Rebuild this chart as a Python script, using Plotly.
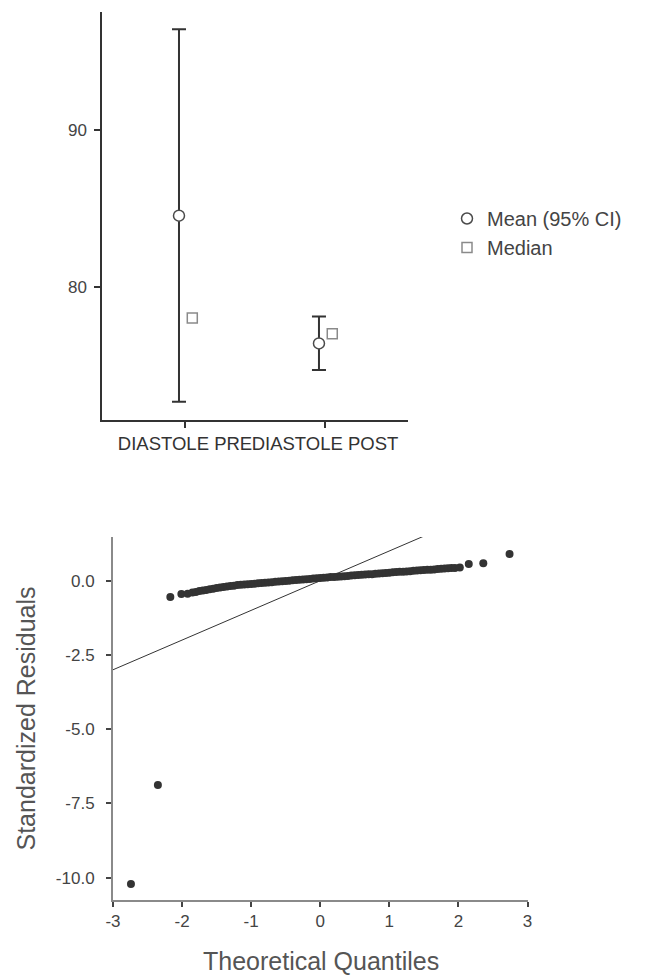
import plotly.graph_objects as go

# ---------------- Top chart: descriptives ----------------
categories = ["DIASTOLE PRE", "DIASTOLE POST"]
mean_values = [84.53, 76.38]
ci_lower = [72.66, 74.68]
ci_upper = [96.43, 78.09]
median_values = [78.0, 77.0]
top_y_ticks = [80, 90]

# ---------------- Bottom chart: Q-Q plot ----------------
theoretical_quantiles = [
    -2.74, -2.35, -2.17, -2.01, -1.92,
    -1.85, -1.80, -1.75, -1.70, -1.65, -1.60, -1.55, -1.50, -1.45, -1.40,
    -1.35, -1.30, -1.25, -1.20, -1.15, -1.10, -1.05, -1.00, -0.95, -0.90,
    -0.85, -0.80, -0.75, -0.70, -0.65, -0.60, -0.55, -0.50, -0.45, -0.40,
    -0.35, -0.30, -0.25, -0.20, -0.15, -0.10, -0.05, 0.00, 0.05, 0.10,
    0.15, 0.20, 0.25, 0.30, 0.35, 0.40, 0.45, 0.50, 0.55, 0.60,
    0.65, 0.70, 0.75, 0.80, 0.85, 0.90, 0.95, 1.00, 1.05, 1.10,
    1.15, 1.20, 1.25, 1.30, 1.35, 1.40, 1.45, 1.50, 1.55, 1.60,
    1.65, 1.70, 1.75, 1.80, 1.85, 1.90, 1.95,
    2.02, 2.15, 2.36, 2.74,
]
standardized_residuals = [
    -10.21, -6.88, -0.55, -0.45, -0.44,
    -0.40, -0.38, -0.35, -0.33, -0.31, -0.29, -0.27, -0.25, -0.23, -0.21,
    -0.20, -0.18, -0.17, -0.15, -0.14, -0.13, -0.12, -0.11, -0.10, -0.09,
    -0.08, -0.07, -0.06, -0.05, -0.04, -0.03, -0.02, -0.01, 0.00, 0.01,
    0.02, 0.03, 0.04, 0.05, 0.06, 0.07, 0.08, 0.09, 0.10, 0.11,
    0.12, 0.12, 0.13, 0.14, 0.15, 0.16, 0.17, 0.18, 0.19, 0.20,
    0.21, 0.22, 0.22, 0.23, 0.24, 0.25, 0.26, 0.27, 0.28, 0.29,
    0.30, 0.30, 0.31, 0.32, 0.33, 0.34, 0.35, 0.36, 0.37, 0.37,
    0.38, 0.39, 0.40, 0.41, 0.42, 0.43, 0.43,
    0.44, 0.56, 0.59, 0.90,
]
reference_line_x = [-3, 3]
reference_line_y = [-3, 3]
qq_x_ticks = [-3, -2, -1, 0, 1, 2, 3]
qq_x_tick_labels = ["-3", "-2", "-1", "0", "1", "2", "3"]
qq_y_ticks = [0.0, -2.5, -5.0, -7.5, -10.0]
qq_y_tick_labels = ["0.0", "-2.5", "-5.0", "-7.5", "-10.0"]
x_title = "Theoretical Quantiles"
y_title = "Standardized Residuals"

FONT = "Liberation Sans, Arial, Helvetica, sans-serif"
W, H = 653, 979
OFF = 8  # default page body margin


def fx(px):
    return (px - OFF) / W


def fy(py):
    return 1 - (py - OFF) / H


cat_pos = list(range(len(categories)))
mean_x = [p - 0.043 for p in cat_pos]
median_x = [p + 0.052 for p in cat_pos]
err_plus = [u - m for u, m in zip(ci_upper, mean_values)]
err_minus = [m - l for m, l in zip(mean_values, ci_lower)]

fig = go.Figure()

fig.add_trace(go.Scatter(
    x=mean_x, y=mean_values, mode="markers", name="Mean (95% CI)",
    marker=dict(symbol="circle", size=11, color="white",
                line=dict(color="#4a4a4a", width=1.5)),
    error_y=dict(type="data", symmetric=False, array=err_plus,
                 arrayminus=err_minus, color="#333333", thickness=2, width=7),
    xaxis="x", yaxis="y",
))
fig.add_trace(go.Scatter(
    x=median_x, y=median_values, mode="markers", name="Median",
    marker=dict(symbol="square", size=10, color="white",
                line=dict(color="#8a8a8a", width=1.5)),
    xaxis="x", yaxis="y",
))

fig.add_trace(go.Scatter(
    x=reference_line_x, y=reference_line_y, mode="lines",
    line=dict(color="#333333", width=1), showlegend=False,
    xaxis="x2", yaxis="y2",
))
fig.add_trace(go.Scatter(
    x=theoretical_quantiles, y=standardized_residuals, mode="markers",
    marker=dict(size=8, color="#333333"), showlegend=False,
    xaxis="x2", yaxis="y2",
))

tick_font = dict(family=FONT, size=17, color="#444444")
title_font = dict(family=FONT, size=25, color="#555555")

fig.update_layout(
    width=W, height=H, autosize=False,
    margin=dict(l=0, r=0, t=0, b=0),
    paper_bgcolor="white", plot_bgcolor="white",
    font=dict(family=FONT, color="#444444"),
    xaxis=dict(
        domain=[fx(102), fx(408)], range=[-0.593, 1.593],
        tickvals=cat_pos, ticktext=categories, tickangle=0,
        tickfont=dict(family=FONT, size=18.5, color="#333333"),
        showline=True, linecolor="#333333", linewidth=1.5,
        ticks="outside", ticklen=6, tickcolor="#333333", tickwidth=1.5,
        showgrid=False, zeroline=False, anchor="y", automargin=False,
    ),
    yaxis=dict(
        domain=[fy(420), fy(12)], range=[71.49, 97.53],
        tickvals=top_y_ticks, tickfont=tick_font, ticklabelstandoff=4,
        showline=True, linecolor="#333333", linewidth=1.5,
        ticks="outside", ticklen=6, tickcolor="#333333", tickwidth=1.5,
        showgrid=False, zeroline=False, anchor="x", automargin=False,
    ),
    xaxis2=dict(
        domain=[fx(113), fx(527.5)], range=[-3, 3],
        tickvals=qq_x_ticks, ticktext=qq_x_tick_labels, tickangle=0,
        tickfont=tick_font,
        showline=True, linecolor="#8a8a8a", linewidth=2,
        ticks="outside", ticklen=5, tickcolor="#444444", tickwidth=1.5,
        showgrid=False, zeroline=False, anchor="y2", automargin=False,
    ),
    yaxis2=dict(
        domain=[fy(900), fy(537)], range=[-10.75, 1.47],
        tickvals=qq_y_ticks, ticktext=qq_y_tick_labels, tickfont=tick_font,
        ticklabelstandoff=8,
        showline=True, linecolor="#8a8a8a", linewidth=2,
        ticks="outside", ticklen=5, tickcolor="#444444", tickwidth=1.5,
        showgrid=False, zeroline=False, anchor="x2", automargin=False,
    ),
    legend=dict(
        x=fx(447), y=fy(199), xanchor="left", yanchor="top",
        font=dict(family=FONT, size=20, color="#444444"),
        bgcolor="rgba(0,0,0,0)", tracegroupgap=0,
    ),
    annotations=[
        dict(text=x_title, xref="paper", yref="paper",
             x=fx(320.5), y=fy(961), xanchor="center", yanchor="middle",
             showarrow=False, font=title_font),
        dict(text=y_title, xref="paper", yref="paper",
             x=fx(25), y=fy(718.5), xanchor="center", yanchor="middle",
             textangle=-90, showarrow=False, font=title_font),
    ],
)

fig.write_html("out.html")
